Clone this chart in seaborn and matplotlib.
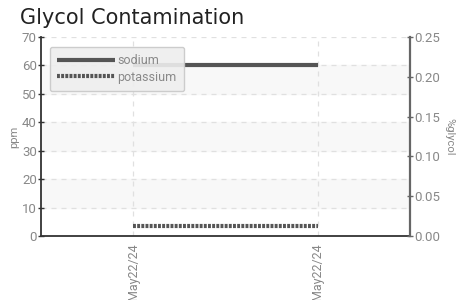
import pandas as pd
import matplotlib.pyplot as plt
import seaborn as sns
from matplotlib.ticker import MultipleLocator

# Data
dates = ["May22/24", "May22/24"]
sodium = [60, 60]
potassium = [3.5, 3.5]

df = pd.DataFrame({"idx": range(len(dates)), "date": dates,
                   "sodium": sodium, "potassium": potassium})

sns.set_style("white")
plt.rcParams["font.family"] = ["Roboto", "DejaVu Sans"]

fig = plt.figure(figsize=(4.72, 3.0), dpi=100)
ax = fig.add_axes([0.0869, 0.2133, 0.7817, 0.6634])

grey = "#555555"
tick_grey = "#888888"

# alternating bands
for lo in [10, 30, 50]:
    ax.axhspan(lo, lo + 10, color="#f8f8f8", zorder=0)

sns.lineplot(data=df, x="idx", y="sodium", ax=ax, color=grey, linewidth=3,
             label="sodium", solid_capstyle="butt")
sns.lineplot(data=df, x="idx", y="potassium", ax=ax, color=grey, linewidth=3,
             linestyle=(0, (0.7, 0.3)), label="potassium", dash_capstyle="butt")

ax.set_xlim(-0.5, len(dates) - 0.5)
ax.set_ylim(0, 70)
ax.yaxis.set_major_locator(MultipleLocator(10))
ax.set_xticks(df["idx"])
ax.set_xticklabels(df["date"], rotation=90, color=tick_grey, fontsize=9)
ax.tick_params(axis="y", labelcolor=tick_grey, labelsize=9.5, length=4, direction="inout",
               color="#333333", width=1, pad=1)
ax.tick_params(axis="x", length=5, direction="inout", color="#333333", width=1, pad=3)
ax.set_xlabel(None)
ax.set_ylabel("ppm", color=tick_grey, fontsize=8, labelpad=2)

ax.grid(True, axis="both", linestyle=(0, (4, 4)), color="#e0e0e0", linewidth=0.9)
ax.set_axisbelow(True)

for s in ["top", "right"]:
    ax.spines[s].set_visible(False)
ax.spines["left"].set_color("#333333")
ax.spines["bottom"].set_color("#333333")
ax.spines["left"].set_linewidth(1.3)
ax.spines["bottom"].set_linewidth(1.3)

ax2 = ax.twinx()
ax2.set_ylim(0, 0.25)
ax2.yaxis.set_major_locator(MultipleLocator(0.05))
ax2.yaxis.set_major_formatter(plt.FormatStrFormatter("%.2f"))
ax2.tick_params(axis="y", labelcolor=tick_grey, labelsize=9.5, length=4, direction="inout",
                color="#666666", width=1, pad=1)
ax2.set_ylabel("%glycol", color=tick_grey, fontsize=8, rotation=270, labelpad=10)
for s in ["top", "left", "bottom"]:
    ax2.spines[s].set_visible(False)
ax2.spines["right"].set_color("#666666")
ax2.spines["right"].set_linewidth(1.6)

leg = ax.legend(loc="upper left", bbox_to_anchor=(0.024, 0.95), fontsize=9, frameon=True,
                fancybox=True, shadow=False, handlelength=4.6, handletextpad=0.2,
                borderpad=0.6, labelspacing=0.25, borderaxespad=0)
leg.get_frame().set_facecolor("#eeeeee")
leg.get_frame().set_edgecolor("#c8c8c8")
leg.get_frame().set_alpha(0.9)
for t in leg.get_texts():
    t.set_color(tick_grey)

fig.text(0.042, 0.92, "Glycol Contamination", fontsize=15, color="#222222",
         family=["DejaVu Sans"])

fig.savefig("out.png", dpi=100)
